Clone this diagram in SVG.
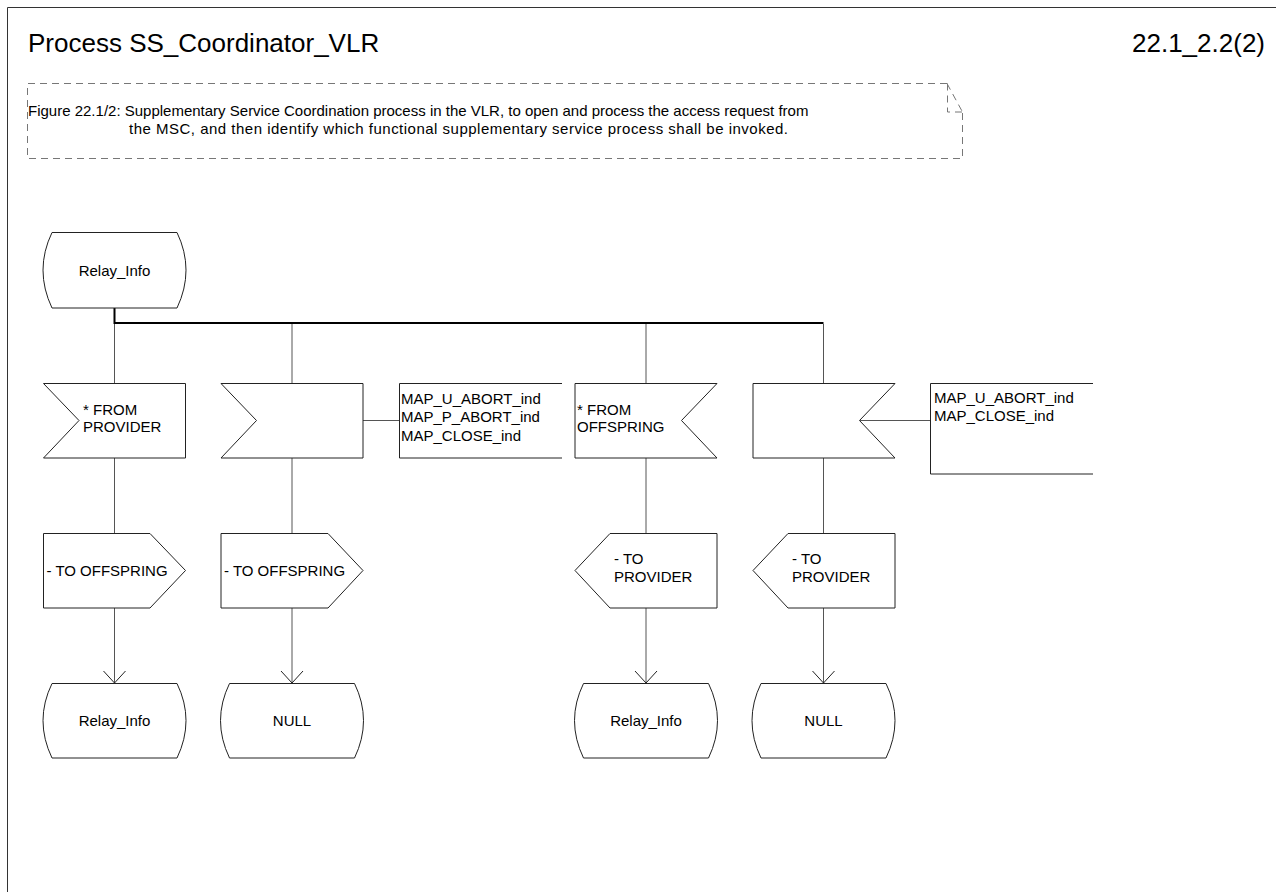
<svg xmlns="http://www.w3.org/2000/svg" width="1276" height="892" viewBox="0 0 1276 892">
<defs>
<style>
text{font-family:"Liberation Sans",Arial,sans-serif;fill:#000}
.t{font-size:15px}
.ttl{font-size:26px}
.shape{fill:#fff;stroke:#222;stroke-width:1}
.ln{fill:none;stroke:#555;stroke-width:1}
.bus{fill:none;stroke:#000;stroke-width:2}
.cmt{fill:none;stroke:#777;stroke-width:1;stroke-dasharray:7 5}
.ext{fill:none;stroke:#222;stroke-width:1}
</style>
<marker id="arr" viewBox="0 0 14 24" refX="13" refY="12" markerWidth="14" markerHeight="24" markerUnits="userSpaceOnUse" orient="auto">
<path d="M1,1 L13,12 L1,23" fill="none" stroke="#222" stroke-width="1"/>
</marker>
</defs>
<rect width="1276" height="892" fill="#fff"/>
<path d="M7.5,892 V7.5 H1276" fill="none" stroke="#333" stroke-width="1"/>
<text class="ttl" x="28" y="52">Process SS_Coordinator_VLR</text>
<text class="ttl" x="1265" y="52" text-anchor="end">22.1_2.2(2)</text>

<g id="comment">
<path class="cmt" d="M947,83.5 H27.5 V158.5 H962.5 V112"/>
<path class="cmt" d="M947,83.5 L962.5,112 M947.5,83.5 V112 H962.5"/>
<text class="t" x="28" y="116">Figure 22.1/2: Supplementary Service Coordination process in the VLR, to open and process the access request from</text>
<text class="t" x="129" y="134" textLength="659" lengthAdjust="spacing">the MSC, and then identify which functional supplementary service process shall be invoked.</text>
</g>

<g id="connectors">
<path class="bus" d="M114.5,308 V323 H823.5"/>
<path class="ln" d="M114.5,324 V383 M292,324 V383 M646,324 V383 M823.5,324 V383"/>
<path class="ln" d="M114.5,458 V533 M292,458 V533 M646,458 V533 M823.5,458 V533"/>
<path class="ln" d="M114.5,608 V683" marker-end="url(#arr)"/>
<path class="ln" d="M292,608 V683" marker-end="url(#arr)"/>
<path class="ln" d="M646,608 V683" marker-end="url(#arr)"/>
<path class="ln" d="M823.5,608 V683" marker-end="url(#arr)"/>
<path class="ln" d="M363,420.5 H399.5 M859.5,420.5 H930.5"/>
</g>

<g id="state_start">
<path class="shape" d="M52,232.5 H177 Q195,270 177,308 H52 Q34,270 52,232.5 Z"/>
<text class="t" x="114.5" y="275.5" text-anchor="middle">Relay_Info</text>
</g>

<g id="input_from_provider">
<path class="shape" d="M43.5,383.5 H185.5 V458 H43.5 L79,420.5 Z"/>
<text class="t" x="83" y="415">* FROM</text>
<text class="t" x="83" y="432">PROVIDER</text>
</g>

<g id="input_abort">
<path class="shape" d="M221,383.5 H363 V458 H221 L256.5,420.5 Z"/>
</g>

<g id="ext_abort1">
<path class="ext" d="M562,383.5 H399.5 V458 H562"/>
<text class="t" x="401" y="403.5">MAP_U_ABORT_ind</text>
<text class="t" x="401" y="422">MAP_P_ABORT_ind</text>
<text class="t" x="401" y="440.5">MAP_CLOSE_ind</text>
</g>

<g id="input_from_offspring">
<path class="shape" d="M575,383.5 H717 L681.5,420.5 L717,458 H575 Z"/>
<text class="t" x="577" y="415">* FROM</text>
<text class="t" x="577" y="432">OFFSPRING</text>
</g>

<g id="input_abort2">
<path class="shape" d="M753,383.5 H895 L859.5,420.5 L895,458 H753 Z"/>
</g>

<g id="ext_abort2">
<path class="ext" d="M1093,383.5 H930.5 V474 H1093"/>
<text class="t" x="934" y="402.5">MAP_U_ABORT_ind</text>
<text class="t" x="934" y="421">MAP_CLOSE_ind</text>
</g>

<g id="output1">
<path class="shape" d="M43.5,533.5 H150 L185.5,570.5 L150,608 H43.5 Z"/>
<text class="t" x="46.5" y="575.5">- TO OFFSPRING</text>
</g>

<g id="output2">
<path class="shape" d="M221,533.5 H328 L363,570.5 L328,608 H221 Z"/>
<text class="t" x="224" y="575.5">- TO OFFSPRING</text>
</g>

<g id="output3">
<path class="shape" d="M610,533.5 H717 V608 H610 L575,570.5 Z"/>
<text class="t" x="614" y="564">- TO</text>
<text class="t" x="614" y="582">PROVIDER</text>
</g>

<g id="output4">
<path class="shape" d="M788,533.5 H895 V608 H788 L753,570.5 Z"/>
<text class="t" x="792" y="564">- TO</text>
<text class="t" x="792" y="582">PROVIDER</text>
</g>

<g id="state_relay">
<path class="shape" d="M52,683.5 H177 Q195,720.5 177,758 H52 Q34,720.5 52,683.5 Z"/>
<text class="t" x="114.5" y="725.5" text-anchor="middle">Relay_Info</text>
</g>

<g id="state_null1">
<path class="shape" d="M229.5,683.5 H354.5 Q372.5,720.5 354.5,758 H229.5 Q211.5,720.5 229.5,683.5 Z"/>
<text class="t" x="292" y="725.5" text-anchor="middle">NULL</text>
</g>

<g id="state_relay2">
<path class="shape" d="M583.5,683.5 H708.5 Q726.5,720.5 708.5,758 H583.5 Q565.5,720.5 583.5,683.5 Z"/>
<text class="t" x="646" y="725.5" text-anchor="middle">Relay_Info</text>
</g>

<g id="state_null2">
<path class="shape" d="M761,683.5 H886 Q904,720.5 886,758 H761 Q743,720.5 761,683.5 Z"/>
<text class="t" x="823.5" y="725.5" text-anchor="middle">NULL</text>
</g>
</svg>
